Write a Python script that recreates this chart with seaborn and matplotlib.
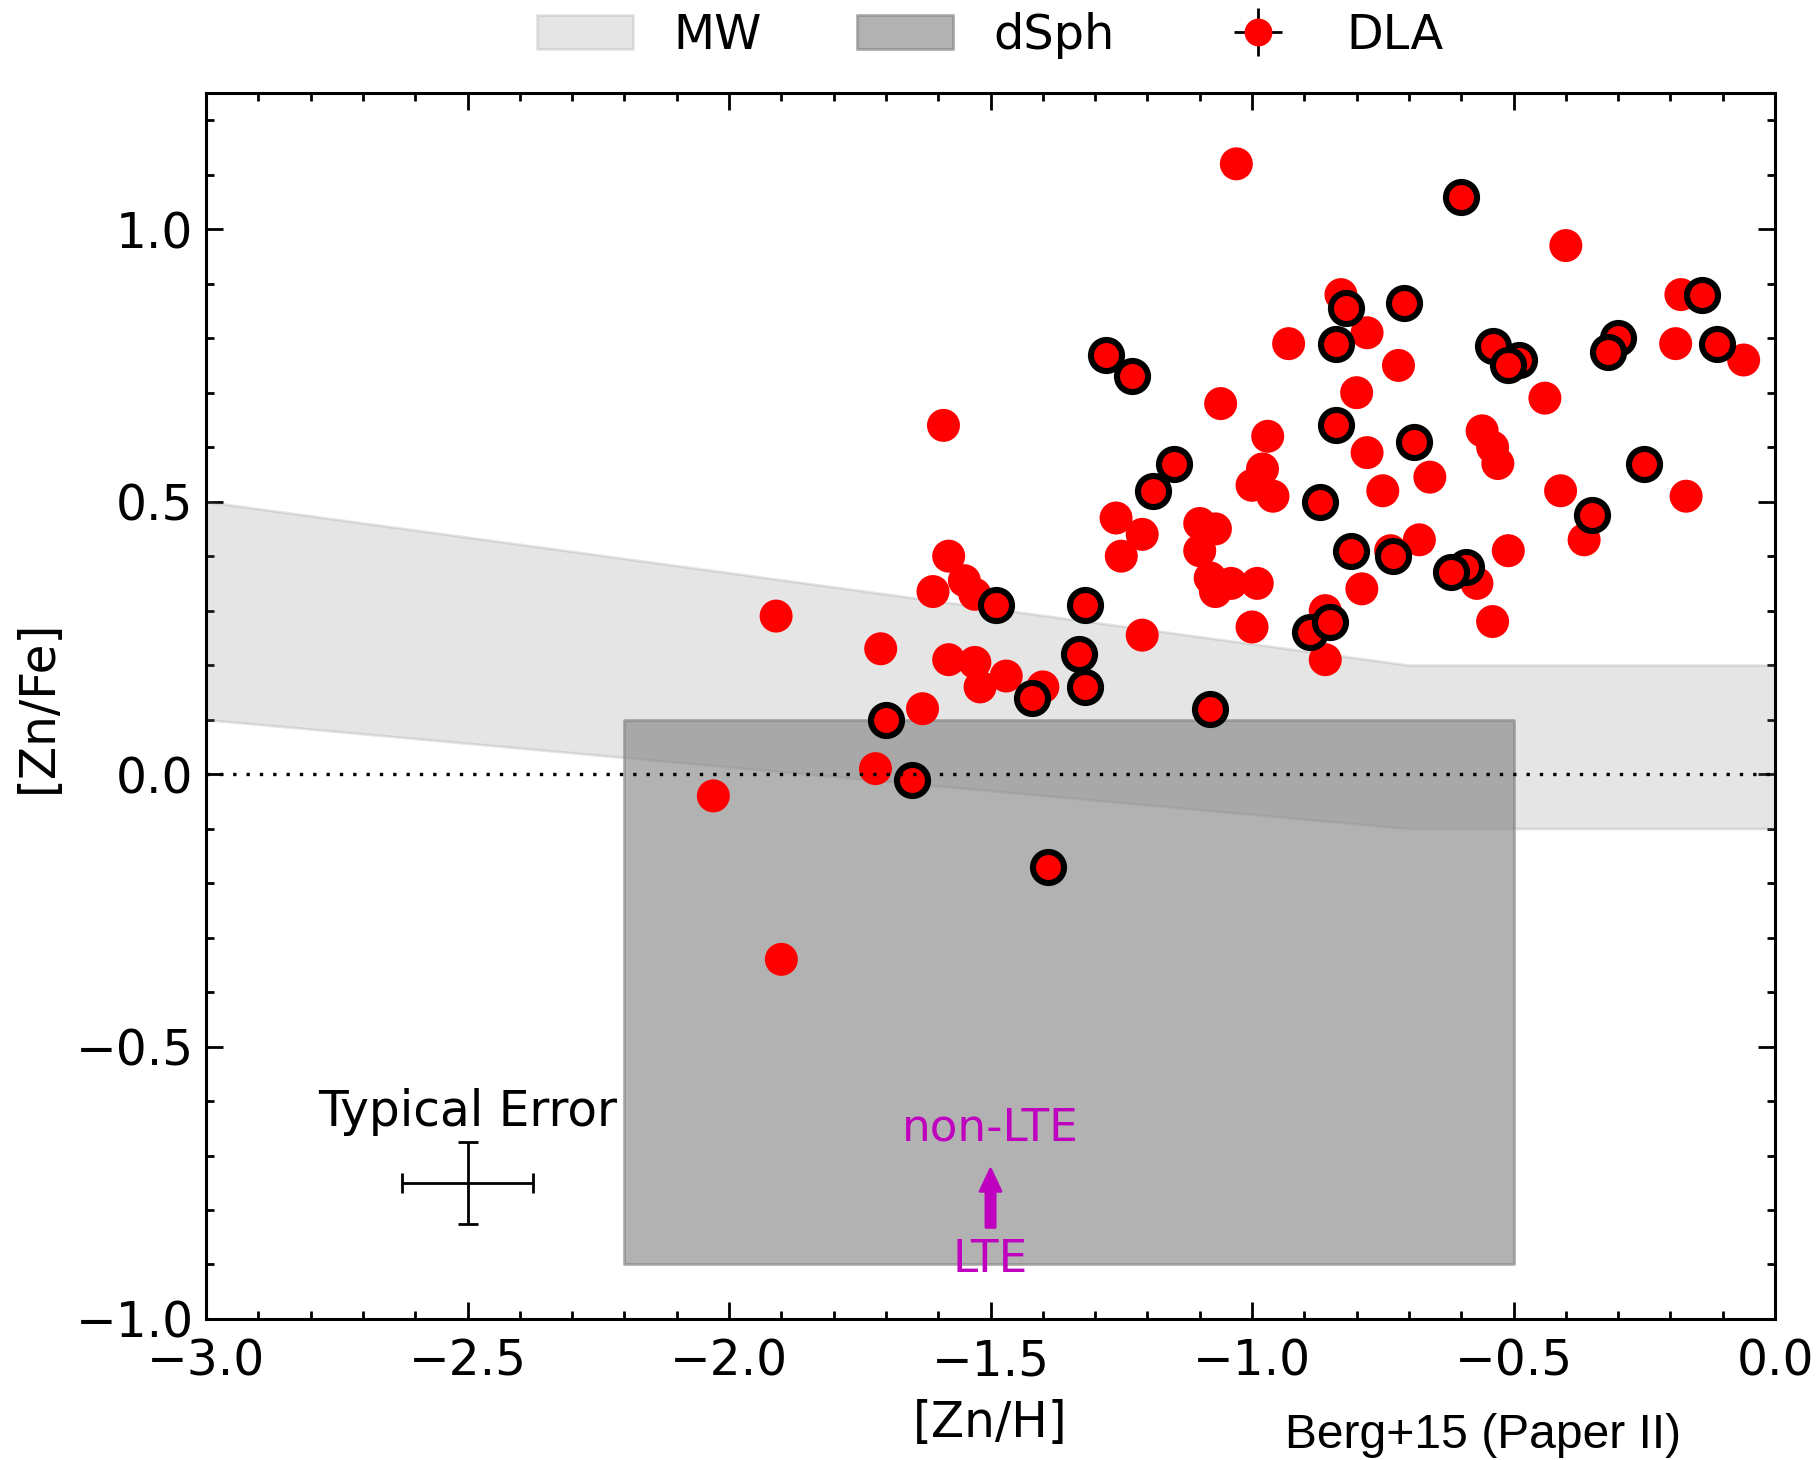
import numpy as np
import pandas as pd
import matplotlib
matplotlib.use("Agg")
import matplotlib.pyplot as plt
from matplotlib.patches import Patch
import seaborn as sns

# ---------------- data ----------------
# DLA measurements (plain red markers)
dla_zn_h = [-1.03, -0.40, -0.83, -0.78, -0.93, -0.72, -0.80, -0.44, -1.06, -0.97,
            -1.59, -0.78, -0.56, -0.54, -0.53, -0.66, -0.98, -1.00, -0.96, -0.75,
            -0.41, -0.17, -1.26, -1.21, -1.25, -1.10, -1.07, -1.10, -1.08, -1.07,
            -1.04, -0.99, -1.58, -1.61, -1.55, -1.53, -0.68, -0.735, -0.51, -0.365,
            -0.79, -0.57, -0.54, -1.00, -1.21, -0.86, -0.86, -0.19, -0.18, -0.06,
            -1.91, -1.71, -1.58, -1.53, -1.47, -1.52, -1.40, -1.63, -1.72, -2.03,
            -1.90]
dla_zn_fe = [1.12, 0.97, 0.88, 0.81, 0.79, 0.75, 0.70, 0.69, 0.68, 0.62,
             0.64, 0.59, 0.63, 0.60, 0.57, 0.545, 0.56, 0.53, 0.51, 0.52,
             0.52, 0.51, 0.47, 0.44, 0.40, 0.46, 0.45, 0.41, 0.36, 0.335,
             0.35, 0.35, 0.40, 0.335, 0.355, 0.33, 0.43, 0.41, 0.41, 0.43,
             0.34, 0.35, 0.28, 0.27, 0.255, 0.30, 0.21, 0.79, 0.88, 0.76,
             0.29, 0.23, 0.21, 0.205, 0.18, 0.16, 0.16, 0.12, 0.01, -0.04,
             -0.34]
# DLA measurements highlighted with black edge
hl_zn_h = [-0.60, -0.82, -0.71, -0.14, -1.28, -1.23, -0.84, -0.54, -0.49, -0.51,
           -0.30, -0.32, -0.11, -0.84, -0.69, -1.15, -1.19, -0.87, -0.25, -0.35,
           -0.81, -0.73, -0.59, -0.62, -1.49, -1.32, -0.89, -0.85, -1.33, -1.32,
           -1.42, -1.08, -1.70, -1.65, -1.39]
hl_zn_fe = [1.06, 0.855, 0.865, 0.88, 0.77, 0.73, 0.79, 0.785, 0.76, 0.75,
            0.80, 0.775, 0.79, 0.64, 0.61, 0.57, 0.52, 0.50, 0.57, 0.475,
            0.41, 0.40, 0.38, 0.37, 0.31, 0.31, 0.26, 0.28, 0.22, 0.16,
            0.14, 0.12, 0.10, -0.01, -0.17]

# Milky Way band
mw_x = [-3.0, -0.7, 0.0]
mw_upper = [0.50, 0.20, 0.20]
mw_lower = [0.10, -0.10, -0.10]
# dSph box
dsph_x = [-2.2, -0.5]
dsph_y = [-0.9, 0.1]
# typical error
err_x, err_y = -2.5, -0.75
err_dx, err_dy = 0.125, 0.075

df = pd.DataFrame({"ZnH": dla_zn_h, "ZnFe": dla_zn_fe})
dfh = pd.DataFrame({"ZnH": hl_zn_h, "ZnFe": hl_zn_fe})

# ---------------- style ----------------
sns.set_style("ticks")
plt.rcParams["font.family"] = ["DejaVu Sans"]
plt.rcParams["font.size"] = 17.5
plt.rcParams["axes.linewidth"] = 1.1
for k in ["text.color", "axes.labelcolor", "xtick.color", "ytick.color",
          "axes.edgecolor"]:
    plt.rcParams[k] = "black"

FS = 17.5

fig = plt.figure(figsize=(9.085, 7.3), dpi=200)
ax = fig.add_axes([0.1134, 0.0966, 0.9769 - 0.1134, 0.9363 - 0.0966])

ax.fill_between(mw_x, mw_lower, mw_upper, color="gray", alpha=0.2, lw=1, zorder=1)
ax.fill_between(dsph_x, [dsph_y[0]] * 2, [dsph_y[1]] * 2, color="gray", alpha=0.6,
                lw=1, zorder=1.1)

sns.scatterplot(data=df, x="ZnH", y="ZnFe", ax=ax, color="red", s=141,
                edgecolor="none", linewidth=0, zorder=2)
sns.scatterplot(data=dfh, x="ZnH", y="ZnFe", ax=ax, color="red", s=125,
                edgecolor="black", linewidth=2.2, zorder=2.5)

ax.axhline(0.0, color="black", ls=(0, (1, 3)), lw=1.2, zorder=3)

# typical error
ax.errorbar([err_x], [err_y], xerr=[err_dx], yerr=[err_dy], fmt="none",
            ecolor="black", elinewidth=1.0, capsize=3.5, capthick=1.0, zorder=4)
ax.text(err_x, -0.62, "Typical Error", ha="center", va="center", fontsize=FS)

# LTE -> non-LTE
ax.annotate("", xy=(-1.5, -0.725), xytext=(-1.5, -0.832),
            arrowprops=dict(color="m", width=3.3, headwidth=7.5, headlength=8,
                            shrink=0), zorder=4)
ax.text(-1.5, -0.65, "non-LTE", color="m", ha="center", va="center", fontsize=16.3)
ax.text(-1.5, -0.89, "LTE", color="m", ha="center", va="center", fontsize=16.3)

ax.set_xlim(-3.0, 0.0)
ax.set_ylim(-1.0, 1.25)
ax.set_xticks(np.arange(-3.0, 0.01, 0.5))
ax.set_xticks(np.arange(-3.0, 0.01, 0.1), minor=True)
ax.set_yticks(np.arange(-1.0, 1.01, 0.5))
ax.set_yticks(np.arange(-1.0, 1.26, 0.1), minor=True)
ax.tick_params(which="both", direction="in", top=True, right=True, width=1.0,
               labelsize=FS, colors="black")
ax.tick_params(which="major", length=6)
ax.tick_params(which="minor", length=3)
ax.tick_params(axis="x", pad=6.5)
ax.tick_params(axis="y", pad=4.5)

ax.set_xlabel("[Zn/H]", fontsize=FS)
ax.set_ylabel("[Zn/Fe]", fontsize=FS)
ax.xaxis.set_label_coords(0.5, -0.085)
ax.xaxis.label.set_va("center")
ax.yaxis.set_label_coords(-0.107, 0.5)
ax.yaxis.label.set_va("center")
for s in ax.spines.values():
    s.set_visible(True)
    s.set_linewidth(1.1)
    s.set_color("black")

# legend
h_mw = Patch(facecolor="gray", alpha=0.2, edgecolor="gray", label="MW")
h_ds = Patch(facecolor="gray", alpha=0.6, edgecolor="gray", label="dSph")
h_dla = ax.errorbar([], [], xerr=[], yerr=[], fmt="o", color="red", ms=9,
                    ecolor="black", elinewidth=1.0, capsize=3, label="DLA")
ax.legend(handles=[h_mw, h_ds, h_dla], labels=["MW", "dSph", "DLA"], ncol=3,
          loc="center", bbox_to_anchor=(0.5, 1.047), frameon=False, fontsize=17.2,
          handlelength=2.0, handleheight=0.7, handletextpad=0.85,
          columnspacing=2.0, numpoints=1)

fig.text(0.707, 0.017, "Berg+15 (Paper II)", fontsize=17.3,
         family=["Liberation Sans", "DejaVu Sans"], ha="left", va="center")

fig.savefig("out.png", dpi=200)
